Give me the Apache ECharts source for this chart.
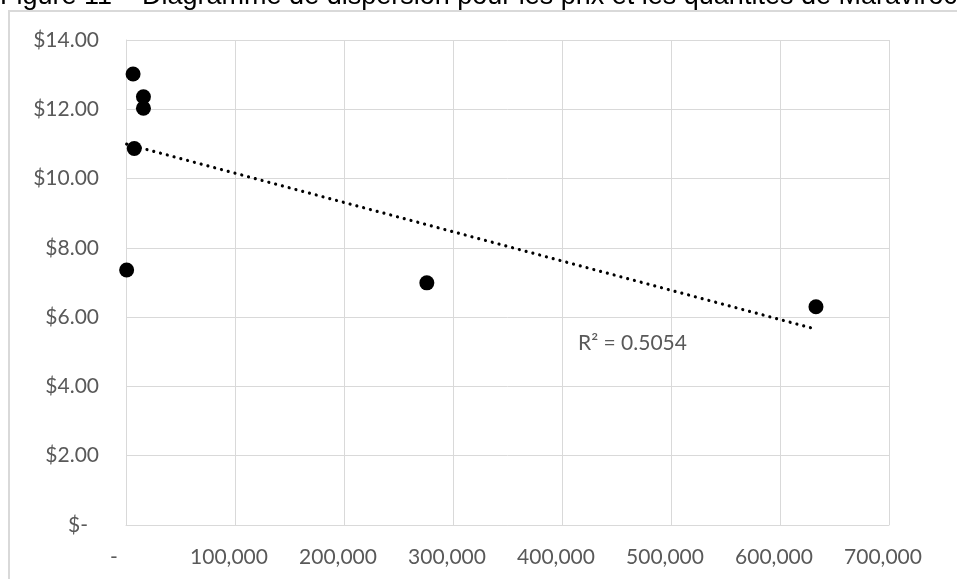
<!DOCTYPE html>
<html>
<head>
<meta charset="utf-8">
<script src="https://cdn.jsdelivr.net/npm/echarts@6/dist/echarts.min.js"></script>
<style>
html,body{margin:0;padding:0;background:#fff;}
#chart{width:957px;height:579px;}
</style>
</head>
<body>
<div id="chart"></div>
<script>
// Data
const quantities = [6500, 16000, 16000, 7600, 600, 276000, 633000];
const prices = [13.02, 12.36, 12.03, 10.87, 7.36, 6.99, 6.30];
const xTickLabels = ['-', '100,000', '200,000', '300,000', '400,000', '500,000', '600,000', '700,000'];
const yTickLabels = ['$-', '$2.00', '$4.00', '$6.00', '$8.00', '$10.00', '$12.00', '$14.00'];
const titleText = 'Figure 11 – Diagramme de dispersion pour les prix et les quantités de Maraviroc';
const r2Text = 'R² = 0.5054';

// Linear trendline (least squares) from the data
const n = quantities.length;
const mx = quantities.reduce((a, b) => a + b, 0) / n;
const my = prices.reduce((a, b) => a + b, 0) / n;
let sxy = 0, sxx = 0;
for (let i = 0; i < n; i++) { sxy += (quantities[i] - mx) * (prices[i] - my); sxx += (quantities[i] - mx) ** 2; }
const slope = sxy / sxx;
const intercept = my - slope * mx;
const xmin = Math.min(...quantities), xmax = Math.max(...quantities);
const trend = [[xmin, intercept + slope * xmin], [xmax, intercept + slope * xmax]];

const chart = echarts.init(document.getElementById('chart'), null, {renderer: 'canvas'});
const gray = '#595959';
const gridColor = '#d9d9d9';
const labelFont = 'Lato';

chart.setOption({
  animation: false,
  backgroundColor: '#ffffff',
  grid: {left: 126, right: 68, top: 40, bottom: 54, containLabel: false, outerBoundsMode: 'none'},
  xAxis: {
    type: 'value', min: 0, max: 700000, interval: 100000,
    axisLine: {show: true, lineStyle: {color: gridColor, width: 1}},
    axisTick: {show: false},
    splitLine: {show: true, lineStyle: {color: gridColor, width: 1}},
    axisLabel: {
      margin: 22, color: gray, fontFamily: labelFont, fontSize: 21,
      formatter: function (v) {
        const i = Math.round(v / 100000);
        return i === 0 ? '{z|' + xTickLabels[i] + '}' : '{n|' + xTickLabels[i] + '}';
      },
      rich: {
        n: {color: gray, fontFamily: labelFont, fontSize: 21, padding: [0, 12, 0, 0]},
        z: {color: gray, fontFamily: labelFont, fontSize: 21, padding: [0, 24, 0, 0]}
      }
    }
  },
  yAxis: {
    type: 'value', min: 0, max: 14, interval: 2,
    axisLine: {show: true, lineStyle: {color: gridColor, width: 1}},
    axisTick: {show: false},
    splitLine: {show: true, lineStyle: {color: gridColor, width: 1}},
    axisLabel: {
      margin: 27, color: gray, fontFamily: labelFont, fontSize: 21,
      formatter: function (v) {
        const i = Math.round(v / 2);
        return i === 0 ? '{z|' + yTickLabels[i] + '}' : '{n|' + yTickLabels[i] + '}';
      },
      rich: {
        n: {color: gray, fontFamily: labelFont, fontSize: 21},
        z: {color: gray, fontFamily: labelFont, fontSize: 21, padding: [0, 11, 0, 0]}
      }
    }
  },
  series: [
    {
      type: 'line',
      data: trend,
      symbol: 'none',
      silent: true,
      z: 1,
      lineStyle: {color: '#000', width: 3.2, type: [0.01, 7], cap: 'round', opacity: 1}
    },
    {
      type: 'scatter',
      data: quantities.map((q, i) => [q, prices[i]]),
      symbol: 'circle',
      symbolSize: 15,
      z: 3,
      itemStyle: {color: '#000', opacity: 1}
    }
  ],
  graphic: [
    {type: 'rect', shape: {x: 9, y: 11, width: 1100, height: 800}, style: {fill: 'none', stroke: '#d9d9d9', lineWidth: 2}, z: -10, silent: true},
    {type: 'text', x: 0, y: -17, style: {text: titleText, fill: '#000', font: '27px "Liberation Sans", Arial, sans-serif', verticalAlign: 'top'}, z: 10},
    {type: 'text', x: 578, y: 343, style: {text: r2Text, fill: gray, font: '21px Lato', verticalAlign: 'middle'}, z: 10}
  ]
});
</script>
</body>
</html>
